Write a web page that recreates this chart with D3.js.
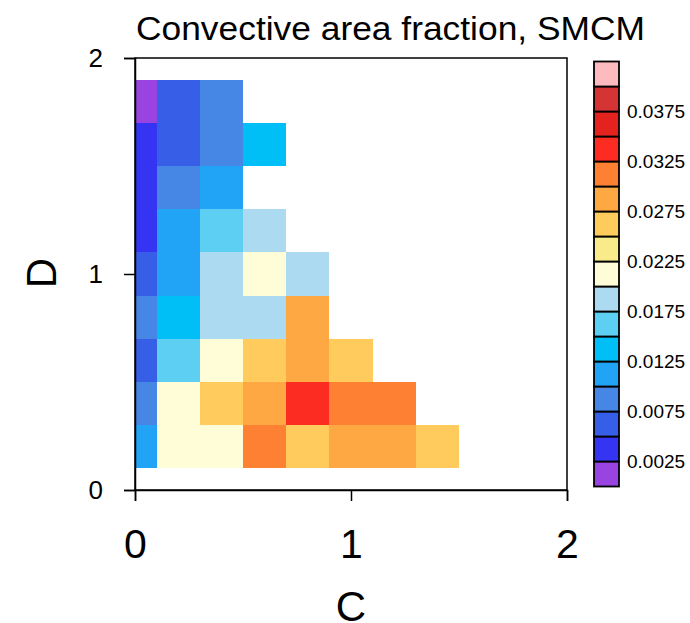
<!DOCTYPE html>
<html>
<head>
<meta charset="utf-8">
<script src="https://cdn.jsdelivr.net/npm/d3@7"></script>
<style>
	body { margin: 0; background: #fff; }
	svg text { font-family: "Liberation Sans", Arial, Helvetica, sans-serif; fill: #000; }
</style>
</head>
<body>
<svg id="chart" width="690" height="623"></svg>
<script>
// cell centres along C and D
const cCenters = [0, 0.2, 0.4, 0.6, 0.8, 1.0, 1.2, 1.4];
const dCenters = [1.8, 1.6, 1.4, 1.2, 1.0, 0.8, 0.6, 0.4, 0.2];

// convective area fraction, one row per D value (top to bottom), null = no data
const fraction = [
	[0.0019, 0.0063, 0.0081, null, null, null, null, null],
	[0.0041, 0.0058, 0.0086, 0.0139, null, null, null, null],
	[0.0037, 0.0089, 0.0112, null, null, null, null, null],
	[0.0044, 0.0108, 0.0163, 0.0188, null, null, null, null],
	[0.0061, 0.0117, 0.0192, 0.0214, 0.0196, null, null, null],
	[0.0084, 0.0131, 0.0185, 0.0194, 0.0288, null, null, null],
	[0.0066, 0.0158, 0.0211, 0.0263, 0.0291, 0.0268, null, null],
	[0.0079, 0.0219, 0.0259, 0.0282, 0.0338, 0.0317, 0.0309, null],
	[0.0106, 0.0207, 0.0222, 0.0304, 0.0271, 0.0284, 0.0296, 0.0264]
];

// contour levels and colours of the label bar
const levels = d3.range(1, 17).map(i => +(i * 0.0025).toFixed(4));
const levelColors = [
	"#9944e0", "#3434f2", "#365ee6", "#4686e4", "#21a3f6", "#00bef6",
	"#5dcff2", "#acdaf0", "#fffcd8", "#f9ea8a", "#fecb5c", "#fda843",
	"#fe8033", "#fd2c22", "#e4221e", "#d53434", "#fdbbbf"
];
const legendLabels = ["0.0025", "0.0075", "0.0125", "0.0175", "0.0225", "0.0275", "0.0325", "0.0375"];

const axisTicks = [0, 1, 2];
const cellSize = 0.2;

const svg = d3.select("#chart");

const plot = {left: 135, right: 567, top: 58, bottom: 490};

const x = d3.scaleLinear().domain([0, 2]).range([plot.left, plot.right]);
const y = d3.scaleLinear().domain([0, 2]).range([plot.bottom, plot.top]);
const color = d3.scaleThreshold().domain(levels).range(levelColors);

// flatten the grid into cells
const cells = [];
fraction.forEach((row, i) => {
	row.forEach((v, j) => {
		if (v !== null)
			cells.push({c: cCenters[j], d: dCenters[i], value: v});
	});
});

svg.append("g")
	.attr("class", "cells")
	.selectAll("rect")
	.data(cells)
	.enter()
	.append("rect")
	.attr("x", d => x(Math.max(0, d.c - cellSize / 2)))
	.attr("width", d => x(d.c + cellSize / 2) - x(Math.max(0, d.c - cellSize / 2)))
	.attr("y", d => y(d.d + cellSize / 2))
	.attr("height", d => y(d.d - cellSize / 2) - y(d.d + cellSize / 2))
	.attr("shape-rendering", "crispEdges")
	.style("fill", d => color(d.value));

// frame
svg.append("rect")
	.attr("x", plot.left)
	.attr("y", plot.top)
	.attr("width", plot.right - plot.left)
	.attr("height", plot.bottom - plot.top)
	.style("fill", "none")
	.style("stroke", "#000")
	.style("stroke-width", 1.5);

// axes
const gX = svg.append("g")
	.attr("transform", `translate(0,${plot.bottom})`)
	.call(d3.axisBottom(x).tickValues(axisTicks).tickFormat(d3.format("d")).tickSize(11).tickPadding(28));

const gY = svg.append("g")
	.attr("transform", `translate(${plot.left},0)`)
	.call(d3.axisLeft(y).tickValues(axisTicks).tickFormat(d3.format("d")).tickSize(11).tickPadding(21));

[gX, gY].forEach(g => {
	g.select(".domain").style("stroke", "#000").style("stroke-width", 1.5);
	g.selectAll(".tick line").style("stroke", "#000").style("stroke-width", 1.5);
	g.attr("font-family", null);
});
gX.selectAll(".tick text").style("font-size", "41px");
gY.selectAll(".tick text").style("font-size", "26px");

// titles
svg.append("text")
	.attr("x", 390.5)
	.attr("y", 40)
	.attr("text-anchor", "middle")
	.attr("textLength", 509)
	.attr("lengthAdjust", "spacingAndGlyphs")
	.style("font-size", "33px")
	.text("Convective area fraction, SMCM");

svg.append("text")
	.attr("x", 351)
	.attr("y", 621)
	.attr("text-anchor", "middle")
	.style("font-size", "42px")
	.text("C");

svg.append("text")
	.attr("transform", "translate(56,273) rotate(-90)")
	.attr("text-anchor", "middle")
	.style("font-size", "42px")
	.text("D");

// label bar
const legend = {x: 594, width: 25, top: 61.5, bottom: 486.5};
const ly = d3.scaleLinear()
	.domain([0, levelColors.length * 0.0025])
	.range([legend.bottom, legend.top]);

const lg = svg.append("g").attr("class", "legend");

lg.selectAll("rect")
	.data(levelColors)
	.enter()
	.append("rect")
	.attr("x", legend.x)
	.attr("width", legend.width)
	.attr("y", (d, i) => ly((i + 1) * 0.0025))
	.attr("height", (d, i) => ly(i * 0.0025) - ly((i + 1) * 0.0025))
	.style("fill", d => d)
	.style("stroke", "#000")
	.style("stroke-width", 1.8);

lg.selectAll("text")
	.data(legendLabels)
	.enter()
	.append("text")
	.attr("x", legend.x + legend.width + 8)
	.attr("y", d => ly(+d))
	.attr("dy", "0.36em")
	.style("font-size", "19px")
	.text(d => d);
</script>
</body>
</html>
